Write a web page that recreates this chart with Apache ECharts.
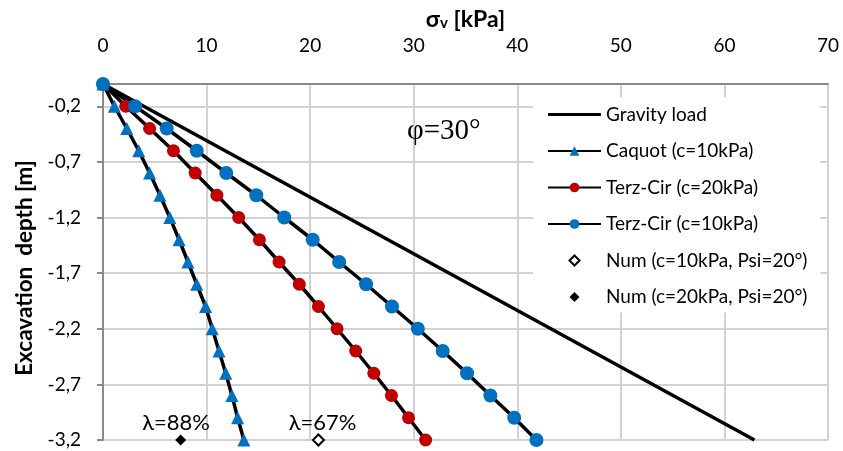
<!DOCTYPE html>
<html>
<head>
<meta charset="utf-8">
<script src="https://cdn.jsdelivr.net/npm/echarts@6/dist/echarts.min.js"></script>
<style>
  html, body { margin: 0; padding: 0; background: #fff; }
  #chart { width: 843px; height: 451px; }
</style>
</head>
<body>
<div id="chart"></div>
<script>
// excavation depth [m], one point every 0.2 m
const depths = [0, -0.2, -0.4, -0.6, -0.8, -1.0, -1.2, -1.4, -1.6, -1.8, -2.0, -2.2, -2.4, -2.6, -2.8, -3.0, -3.2]
// sigma_v [kPa]
const caquotC10 = [0, 1.1, 2.3, 3.45, 4.5, 5.5, 6.45, 7.35, 8.2, 9.05, 9.9, 10.55, 11.2, 11.85, 12.45, 13.0, 13.6]
const terzCirC20 = [0, 2.2, 4.5, 6.8, 8.9, 11.0, 13.1, 15.1, 17.0, 18.95, 20.8, 22.6, 24.4, 26.15, 27.85, 29.5, 31.15]
const terzCirC10 = [0, 3.1, 6.15, 9.05, 11.9, 14.8, 17.5, 20.25, 22.8, 25.4, 27.9, 30.4, 32.8, 35.15, 37.4, 39.7, 41.85]
const gravityX = [0, 62.9]
const gravityDepth = [0, -3.2]
const numC10 = [[20.8, -3.2]]
const numC20 = [[7.5, -3.2]]
// tick labels
const depthTicks = [-3.2, -2.7, -2.2, -1.7, -1.2, -0.7, -0.2]
const sigmaMin = 0, sigmaMax = 70, sigmaStep = 10
// text notes in data coordinates
const notes = [
  { text: 'φ=30°', x: 32.9, y: -0.43, serif: true },
  { text: 'λ=88%', x: 7.05, y: -3.05 },
  { text: 'λ=67%', x: 21.2, y: -3.05 },
]

const zip = (xs, ys) => xs.map((x, i) => [x, ys[i]])
const font = 'Lato, "Open Sans", sans-serif'
const ink = '#000'
const axisGrey = '#8a8a8a'
const gridGrey = '#d2d2d2'

// legend icons: moveTo points fix the box to 53x12 so the shape keeps its size
const lineIcon = 'path://M0,0M53,12M0,4.5h53v3h-53z'
const diamondIcon = 'path://M0,0M53,12M21.5,6L26.5,1L31.5,6L26.5,11Z'

const chart = echarts.init(document.getElementById('chart'))

const lineSeries = (name, xs, ys, symbol, size, color) => ({
  name,
  type: 'line',
  data: zip(xs, ys),
  symbol,
  symbolSize: size,
  showSymbol: symbol !== 'none',
  clip: false,
  lineStyle: { color: '#000', width: 3.5 },
  itemStyle: { color, opacity: 1 },
  emphasis: { disabled: true },
})

chart.setOption({
  animation: false,
  textStyle: { fontFamily: font, color: ink },
  grid: { left: 103, right: 15, top: 84, bottom: 11 },
  xAxis: {
    type: 'value',
    position: 'top',
    min: sigmaMin,
    max: sigmaMax,
    interval: sigmaStep,
    name: '{a|σ}{b|v}{a| [kPa]}',
    nameLocation: 'middle',
    nameGap: 51,
    nameTextStyle: {
      rich: {
        a: { fontFamily: font, fontSize: 23, fontWeight: 'bold', color: ink, lineHeight: 24 },
        b: { fontFamily: font, fontSize: 15, fontWeight: 'bold', color: ink, lineHeight: 13, verticalAlign: 'bottom' },
      },
    },
    axisLine: { onZero: false, lineStyle: { color: axisGrey, width: 2 } },
    axisTick: { show: false },
    axisLabel: { fontSize: 19, color: ink, margin: 29, fontFamily: font },
    splitLine: { lineStyle: { color: gridGrey, width: 2 } },
  },
  yAxis: {
    type: 'value',
    min: -3.2,
    max: 0,
    name: 'Excavation  depth [m]',
    nameLocation: 'middle',
    nameGap: 65,
    nameTextStyle: { fontSize: 22.5, fontWeight: 'bold', color: ink, fontFamily: font, padding: [0, 12, 0, 0] },
    axisLine: { onZero: false, lineStyle: { color: axisGrey, width: 2 } },
    axisTick: { show: true, length: 6, customValues: depthTicks, lineStyle: { color: axisGrey, width: 2 } },
    axisLabel: {
      customValues: depthTicks,
      fontSize: 19,
      color: ink,
      margin: 22,
      fontFamily: font,
      formatter: v => v.toFixed(1).replace('.', ','),
    },
    splitLine: { show: true, lineStyle: { color: gridGrey, width: 2 } },
  },
  legend: {
    orient: 'vertical',
    left: 533,
    top: 97,
    padding: [8, 13, 6, 14],
    backgroundColor: '#fff',
    itemWidth: 53,
    itemHeight: 12,
    itemGap: 17.5,
    textStyle: { fontSize: 19, color: ink, fontFamily: font, lineHeight: 19 },
    data: [
      { name: 'Gravity load', icon: lineIcon },
      'Caquot (c=10kPa)',
      'Terz-Cir (c=20kPa)',
      'Terz-Cir (c=10kPa)',
      { name: 'Num (c=10kPa, Psi=20°)', icon: diamondIcon },
      { name: 'Num (c=20kPa, Psi=20°)', icon: diamondIcon },
    ],
  },
  series: [
    lineSeries('Gravity load', gravityX, gravityDepth, 'none', 0, '#000'),
    lineSeries('Caquot (c=10kPa)', caquotC10, depths, 'triangle', 13, '#0070c0'),
    lineSeries('Terz-Cir (c=20kPa)', terzCirC20, depths, 'circle', 13, '#c00000'),
    lineSeries('Terz-Cir (c=10kPa)', terzCirC10, depths, 'circle', 14, '#0070c0'),
    {
      name: 'Num (c=10kPa, Psi=20°)',
      type: 'scatter',
      data: numC10,
      symbol: 'diamond',
      symbolSize: 11,
      clip: false,
      itemStyle: { color: '#fff', borderColor: '#000', borderWidth: 2, opacity: 1 },
    },
    {
      name: 'Num (c=20kPa, Psi=20°)',
      type: 'scatter',
      data: numC20,
      symbol: 'diamond',
      symbolSize: 11,
      clip: false,
      itemStyle: { color: '#000', opacity: 1 },
    },
    {
      name: 'notes',
      type: 'scatter',
      silent: true,
      symbolSize: 0,
      clip: false,
      z: 1,
      itemStyle: { opacity: 1 },
      data: notes.map(n => ({
        value: [n.x, n.y],
        label: {
          show: true,
          position: 'inside',
          formatter: n.text,
          color: ink,
          fontFamily: n.serif ? '"Liberation Serif", "DejaVu Serif", serif' : font,
          fontSize: n.serif ? 29 : 22,
        },
      })),
    },
  ],
})
</script>
</body>
</html>
